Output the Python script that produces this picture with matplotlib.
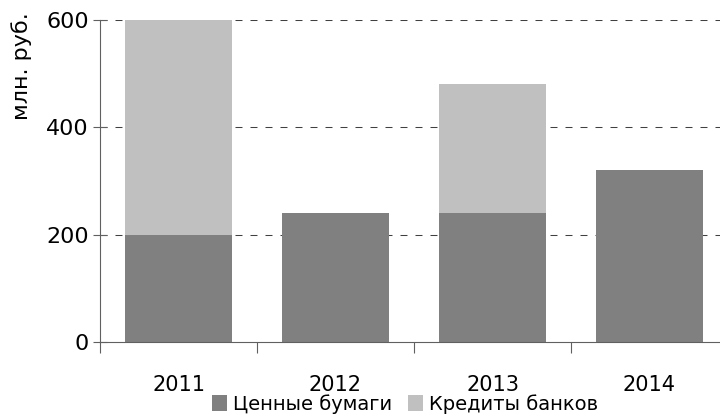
import matplotlib
matplotlib.use("Agg")
import matplotlib.pyplot as plt

years = ["2011", "2012", "2013", "2014"]
securities = [200, 240, 240, 320]
bank_loans = [400, 0, 240, 0]
series_names = ["Ценные бумаги", "Кредиты банков"]
y_ticks = [0, 200, 400, 600]

plt.rcParams["font.family"] = ["DejaVu Sans"]

fig = plt.figure(figsize=(7.2, 4.16), dpi=100)
ax = fig.add_axes([100/720, 74/416, 628/720, 322/416])

x = list(range(len(years)))
dark = "#808080"
light = "#C0C0C0"
ax.bar(x, securities, width=0.68, color=dark, label=series_names[0], zorder=2)
ax.bar(x, bank_loans, width=0.68, bottom=securities, color=light, label=series_names[1], zorder=2)

ax.set_xlim(-0.5, len(years) - 0.5)
ax.set_ylim(0, 600)
ax.set_yticks(y_ticks)
ax.set_yticklabels([str(v) for v in y_ticks], fontsize=16)
for v in y_ticks[1:]:
    ax.axhline(v, color="#404040", lw=0.75, ls=(0, (6.7, 7.7)), zorder=1)

ax.set_xticks([i - 0.5 for i in range(len(years) + 1)])
ax.set_xticklabels([])
ax.set_xticks(x, minor=True)
ax.set_xticklabels(years, minor=True, fontsize=15)
ax.tick_params(axis="x", which="major", direction="out", length=8, color="#606060", width=0.8)
ax.tick_params(axis="x", which="minor", length=0, pad=24)
ax.tick_params(axis="y", direction="inout", length=10, color="#606060", width=0.8, pad=3)

for s in ["top", "right"]:
    ax.spines[s].set_visible(False)
ax.spines["left"].set_color("#606060")
ax.spines["bottom"].set_color("#606060")
ax.spines["left"].set_linewidth(0.8)
ax.spines["bottom"].set_linewidth(0.8)

fig.text(22/720, 1 - 12/416, "млн. руб.", rotation=90, ha="center", va="top", fontsize=16)

fig.legend(loc="center", bbox_to_anchor=(405/720, 1 - 404/416), ncol=2, frameon=False,
           fontsize=14, handlelength=0.8, handleheight=0.9, handletextpad=0.3, columnspacing=0.8)

fig.savefig("out.png", dpi=100)
